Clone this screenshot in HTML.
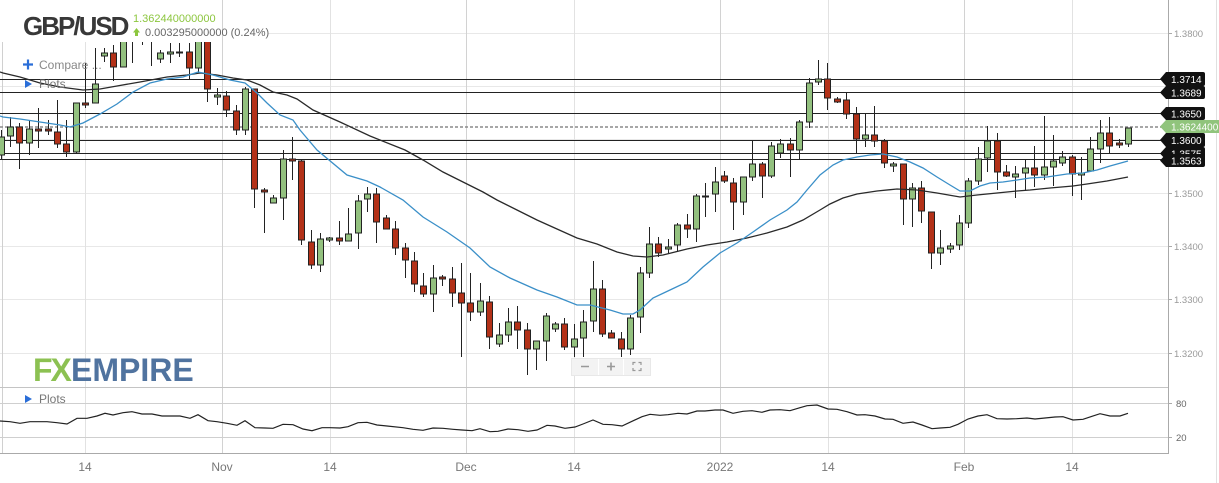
<!DOCTYPE html>
<html><head><meta charset="utf-8"><style>
html,body{margin:0;padding:0;background:#fff;}
svg{display:block;font-family:"Liberation Sans",Arial,sans-serif;}
</style></head><body>
<svg width="1219" height="483" viewBox="0 0 1219 483" xmlns="http://www.w3.org/2000/svg">
<defs><clipPath id="pc"><rect x="0" y="0" width="1168" height="387"/></clipPath></defs>
<rect width="1219" height="483" fill="#fff"/>
<g stroke="#e8e8e8" stroke-width="1">
<path d="M0 33.5H1168M0 86.5H1168M0 139.5H1168M0 193.5H1168M0 246.5H1168M0 299.5H1168M0 353.5H1168"/>
</g>
<g stroke="#e2e2e2" stroke-width="1">
<path d="M85.5 0V453M330.5 0V453M574.5 0V453M828.5 0V453M1072.5 0V453"/>
</g>
<g stroke="#d2d2d2" stroke-width="1">
<path d="M222.5 0V453M466.5 0V453M720.5 0V453M964.5 0V453"/>
</g>
<line x1="2.5" y1="0" x2="2.5" y2="453" stroke="#d0d0d0"/>
<line x1="1216.5" y1="0" x2="1216.5" y2="483" stroke="#e0e0e0"/>
<g stroke="#222" stroke-width="1">
<path d="M0 79.5H1162M0 92.5H1162M0 113.5H1162M0 140.5H1162M0 153.5H1162M0 159.5H1162"/>
</g>
<line x1="0" y1="127" x2="1162" y2="127" stroke="#8a8a8a" stroke-width="1.6" stroke-dasharray="3,2"/>
<g clip-path="url(#pc)">
<path fill="none" stroke="#222" stroke-width="1" d="M1.5 130V160M10.5 117V147M19.5 123V169M29.5 120V155M38.5 108V148M48.5 120V135M57.5 100V148M66.5 120V157M76.5 103V153M85.5 63V108M95.5 48V103M104.5 48V62M113.5 45V81M123.5 30V67M132.5 30V63M142.5 20V45M151.5 20V66M160.5 50V63M170.5 43V63M179.5 43V57M189.5 43V80M198.5 30V73M207.5 30V102M217.5 88V105M226.5 91V117M236.5 105V135M245.5 87V135M254.5 89V208M264.5 188V233M273.5 195V203M283.5 150V220M292.5 137V180M301.5 160V245M311.5 230V269M320.5 233V272M329.5 237V242M339.5 221V245M348.5 208V241M358.5 195V249M367.5 187V212M376.5 188V243M386.5 215V229M395.5 221V255M405.5 243V278M414.5 252V292M423.5 273V297M433.5 265V312M442.5 275V286M452.5 267V307M461.5 263V357M470.5 273V321M480.5 283V316M489.5 296V349M499.5 323V347M508.5 308V342M517.5 306V349M527.5 323V375M536.5 341V370M546.5 313V361M555.5 322V332M564.5 318V350M574.5 324V357M583.5 310V357M593.5 261V332M602.5 280V337M611.5 330V338M621.5 332V357M630.5 315V355M640.5 267V333M649.5 227V278M658.5 237V257M668.5 239V253M677.5 223V252M687.5 214V238M696.5 194V242M705.5 183V217M715.5 167V212M724.5 171V183M733.5 178V230M743.5 177V215M752.5 140V181M762.5 162V198M771.5 142V178M780.5 139V158M790.5 138V177M799.5 120V160M809.5 78V128M818.5 60V85M827.5 63V110M837.5 97V103M846.5 93V119M856.5 107V154M865.5 113V147M874.5 106V147M884.5 139V168M893.5 162V172M903.5 164V225M912.5 183V227M921.5 181V223M931.5 212V269M940.5 230V265M950.5 243V253M959.5 215V250M968.5 178V228M978.5 147V185M987.5 126V172M997.5 133V190M1006.5 165V177M1015.5 166V198M1025.5 159V190M1034.5 146V187M1044.5 116V180M1053.5 135V186M1062.5 151V166M1072.5 155V196M1081.5 157V200M1090.5 137V171M1100.5 120V163M1109.5 117V153M1119.5 139V148M1128.5 128V147"/>
<g fill="#93c17f" stroke="#222" stroke-width="1">
<rect x="-1.5" y="137" width="6" height="18"/><rect x="7.5" y="127" width="6" height="9"/><rect x="26.5" y="129" width="6" height="14"/><rect x="73.5" y="103" width="6" height="49"/><rect x="92.5" y="84" width="6" height="19"/><rect x="101.5" y="53" width="6" height="3"/><rect x="120.5" y="30" width="6" height="37"/><rect x="129.5" y="25" width="6" height="13"/><rect x="148.5" y="25" width="6" height="13"/><rect x="157.5" y="53" width="6" height="6"/><rect x="167.5" y="52" width="6" height="2"/><rect x="176.5" y="52" width="6" height="1"/><rect x="195.5" y="30" width="6" height="38"/><rect x="214.5" y="95" width="6" height="2"/><rect x="242.5" y="89" width="6" height="41"/><rect x="270.5" y="198" width="6" height="5"/><rect x="280.5" y="159" width="6" height="39"/><rect x="317.5" y="239" width="6" height="26"/><rect x="326.5" y="238" width="6" height="2"/><rect x="345.5" y="234" width="6" height="7"/><rect x="355.5" y="201" width="6" height="32"/><rect x="364.5" y="194" width="6" height="5"/><rect x="430.5" y="278" width="6" height="16"/><rect x="477.5" y="301" width="6" height="11"/><rect x="496.5" y="335" width="6" height="9"/><rect x="505.5" y="322" width="6" height="13"/><rect x="533.5" y="341" width="6" height="8"/><rect x="543.5" y="316" width="6" height="25"/><rect x="552.5" y="324" width="6" height="5"/><rect x="571.5" y="339" width="6" height="8"/><rect x="580.5" y="322" width="6" height="16"/><rect x="590.5" y="289" width="6" height="32"/><rect x="627.5" y="318" width="6" height="31"/><rect x="637.5" y="273" width="6" height="44"/><rect x="646.5" y="244" width="6" height="29"/><rect x="665.5" y="247" width="6" height="2"/><rect x="674.5" y="225" width="6" height="20"/><rect x="693.5" y="196" width="6" height="33"/><rect x="702.5" y="196" width="6" height="1"/><rect x="712.5" y="182" width="6" height="12"/><rect x="740.5" y="177" width="6" height="25"/><rect x="749.5" y="164" width="6" height="13"/><rect x="768.5" y="146" width="6" height="30"/><rect x="777.5" y="144" width="6" height="9"/><rect x="796.5" y="122" width="6" height="28"/><rect x="806.5" y="83" width="6" height="39"/><rect x="815.5" y="79" width="6" height="3"/><rect x="862.5" y="135" width="6" height="4"/><rect x="890.5" y="164" width="6" height="2"/><rect x="909.5" y="188" width="6" height="11"/><rect x="937.5" y="248" width="6" height="5"/><rect x="947.5" y="246" width="6" height="3"/><rect x="956.5" y="223" width="6" height="22"/><rect x="965.5" y="181" width="6" height="42"/><rect x="975.5" y="159" width="6" height="22"/><rect x="984.5" y="141" width="6" height="17"/><rect x="1012.5" y="174" width="6" height="3"/><rect x="1022.5" y="168" width="6" height="5"/><rect x="1041.5" y="167" width="6" height="8"/><rect x="1050.5" y="161" width="6" height="6"/><rect x="1059.5" y="157" width="6" height="6"/><rect x="1078.5" y="173" width="6" height="2"/><rect x="1087.5" y="149" width="6" height="22"/><rect x="1097.5" y="133" width="6" height="16"/><rect x="1125.5" y="128" width="6" height="16"/>
</g>
<g fill="#b33118" stroke="#222" stroke-width="1">
<rect x="16.5" y="127" width="6" height="16"/><rect x="35.5" y="129" width="6" height="2"/><rect x="45.5" y="129" width="6" height="2"/><rect x="54.5" y="132" width="6" height="12"/><rect x="63.5" y="144" width="6" height="8"/><rect x="82.5" y="103" width="6" height="2"/><rect x="110.5" y="53" width="6" height="14"/><rect x="139.5" y="25" width="6" height="13"/><rect x="186.5" y="52" width="6" height="16"/><rect x="204.5" y="30" width="6" height="59"/><rect x="223.5" y="96" width="6" height="14"/><rect x="233.5" y="111" width="6" height="19"/><rect x="251.5" y="89" width="6" height="100"/><rect x="261.5" y="190" width="6" height="2"/><rect x="289.5" y="159" width="6" height="2"/><rect x="298.5" y="161" width="6" height="79"/><rect x="308.5" y="242" width="6" height="23"/><rect x="336.5" y="238" width="6" height="3"/><rect x="373.5" y="194" width="6" height="28"/><rect x="383.5" y="218" width="6" height="11"/><rect x="392.5" y="229" width="6" height="19"/><rect x="402.5" y="248" width="6" height="12"/><rect x="411.5" y="261" width="6" height="23"/><rect x="420.5" y="286" width="6" height="8"/><rect x="439.5" y="277" width="6" height="2"/><rect x="449.5" y="279" width="6" height="14"/><rect x="458.5" y="293" width="6" height="10"/><rect x="467.5" y="303" width="6" height="9"/><rect x="486.5" y="302" width="6" height="35"/><rect x="514.5" y="322" width="6" height="8"/><rect x="524.5" y="330" width="6" height="19"/><rect x="561.5" y="324" width="6" height="23"/><rect x="599.5" y="289" width="6" height="45"/><rect x="608.5" y="333" width="6" height="5"/><rect x="618.5" y="339" width="6" height="10"/><rect x="655.5" y="244" width="6" height="9"/><rect x="684.5" y="225" width="6" height="4"/><rect x="721.5" y="176" width="6" height="5"/><rect x="730.5" y="183" width="6" height="19"/><rect x="759.5" y="164" width="6" height="12"/><rect x="787.5" y="144" width="6" height="6"/><rect x="824.5" y="79" width="6" height="19"/><rect x="834.5" y="99" width="6" height="3"/><rect x="843.5" y="100" width="6" height="14"/><rect x="853.5" y="114" width="6" height="25"/><rect x="871.5" y="135" width="6" height="6"/><rect x="881.5" y="141" width="6" height="22"/><rect x="900.5" y="164" width="6" height="35"/><rect x="918.5" y="188" width="6" height="23"/><rect x="928.5" y="212" width="6" height="41"/><rect x="994.5" y="141" width="6" height="31"/><rect x="1003.5" y="172" width="6" height="4"/><rect x="1031.5" y="168" width="6" height="7"/><rect x="1069.5" y="157" width="6" height="17"/><rect x="1106.5" y="133" width="6" height="13"/><rect x="1116.5" y="143" width="6" height="2"/>
</g>
<polyline fill="none" stroke="#2a2a2a" stroke-width="1.3" points="0,72 3,73 20,77 40,83 60,87 83,90 100,89 117,86 140,82 167,77 187,75 200,73 217,75 233,78 247,80 260,85 273,92 287,95 297,99 313,110 340,122 370,136 405,150 423,160 443,172 463,182 483,192 497,200 517,210 537,220 557,229 577,238 597,244 617,252 633,256 647,257 663,255 687,249 707,245 727,242 747,238 767,233 787,227 803,220 820,210 830,204 843,198 857,194 877,191 897,189 917,190 937,193 960,197 977,195 997,193 1017,191 1030,190 1050,188 1073,186 1087,184 1107,181 1128,177"/>
<polyline fill="none" stroke="#3a8fc8" stroke-width="1.3" points="0,116 3,117 20,119 40,122 60,125 70,127 83,123 100,114 117,104 133,92 150,83 167,79 183,77 198,72 213,75 230,80 245,83 257,93 267,103 280,115 293,120 300,130 317,150 347,175 367,181 380,187 403,200 423,217 447,232 470,248 490,267 510,278 537,290 557,297 577,305 590,305 610,310 623,314 633,314 640,310 653,298 670,290 687,282 703,267 720,253 737,243 753,232 770,220 787,210 797,202 807,190 820,175 833,165 843,160 857,157 870,155 883,154 897,157 910,162 923,168 937,177 950,185 960,191 970,191 980,186 990,183 1003,182 1017,180 1030,178 1047,177 1067,174 1083,173 1097,170 1110,166 1128,161"/>
</g>
<rect x="0" y="0" width="268" height="42" fill="#fff"/>
<line x1="222.5" y1="0" x2="222.5" y2="42" stroke="#d2d2d2"/>
<text x="23" y="35" font-size="26" font-weight="bold" fill="#383838" letter-spacing="-2">GBP/USD</text>
<text x="133" y="22" font-size="11" fill="#8cc63e">1.362440000000</text>
<polygon points="133,32.5 136.5,28 140,32.5 138,32.5 138,36 135,36 135,32.5" fill="#8cc63e"/>
<text x="145" y="36" font-size="11" fill="#666">0.003295000000 (0.24%)</text>
<path d="M23 64.5H33M28 59.5V69.5" stroke="#2a6ed8" stroke-width="2.2"/>
<text x="39" y="69" font-size="12" fill="#888">Compare ...</text>
<polygon points="25,80 32,84 25,88" fill="#2a6ed8"/>
<text x="39" y="88" font-size="12" fill="#777">Plots</text>
<text x="33" y="381" font-size="32" font-weight="bold" fill="#8cc152" letter-spacing="-2">FX</text>
<text x="71" y="381" font-size="32" font-weight="bold" fill="#50739f">EMPIRE</text>
<rect x="571.5" y="358.5" width="79" height="17" fill="#f3f3f3" stroke="#e8e8e8"/>
<path d="M598.5 359V375M623.5 359V375" stroke="#fff" stroke-width="1"/>
<path d="M581 366.5H589M607 366.5H615M611 362.5V370.5" stroke="#999" stroke-width="1.6"/>
<path d="M633 365V362.5H635.5M638.5 362.5H641V365M641 368V370.5H638.5M635.5 370.5H633V368" fill="none" stroke="#999" stroke-width="1.2"/>
<line x1="0" y1="387.5" x2="1168" y2="387.5" stroke="#c4c4c4"/>
<path d="M0 403.5H1168M0 437.5H1168" stroke="#cfcfcf"/>
<line x1="0" y1="453.5" x2="1168" y2="453.5" stroke="#aaa"/>
<polygon points="25,395 32,399 25,403" fill="#2a6ed8"/>
<text x="39" y="403" font-size="12" fill="#777">Plots</text>
<polyline fill="none" stroke="#222" stroke-width="1.2" points="0,421 10,421.7 20,423.3 30,421.7 47,421.7 57,422.7 67,424 77,418.3 87,418.3 97,416 105,413.3 113,415 123,412.7 132,411.7 142,414 152,414 162,416 172,416 180,416 190,418.3 198,414.7 208,420.7 217,421.7 227,423.3 237,425.3 245,420.7 255,427.7 265,428 273,428.3 283,424.3 293,424.7 303,429 312,430.7 322,427.7 330,427.7 340,428 348,426.7 358,422.7 367,422.3 377,425 387,426 403,427.7 413,429.3 423,430.3 433,428 443,428.3 453,429.3 462,430 472,430.7 480,428.7 490,431.7 498,431.3 508,429 518,429.7 528,431.3 537,430 547,425.3 555,426 565,428.3 575,427 583,424 593,420 603,424.3 612,424.7 622,426 632,421.3 642,416.7 650,414.3 660,415.3 668,414.7 678,413.3 687,414 697,411 705,411 715,410 723,410 733,413.3 743,411.3 752,410.7 762,412.3 770,410 780,409.7 790,410.7 800,407.7 807,405.7 817,405 828,409 837,409.3 847,411.7 857,415 865,414.7 875,416 885,419 893,419.3 903,423.3 913,422 922,425 932,428.7 940,428 950,427.3 958,424.3 968,419 978,416 987,414.7 997,418.7 1007,419 1017,418.7 1027,418 1035,419 1045,418 1055,417 1063,416.7 1073,420 1083,419.3 1092,416.3 1100,413.7 1110,416 1120,416 1128,413.3"/>
<line x1="1168.5" y1="0" x2="1168.5" y2="454" stroke="#aaa"/>
<path d="M1168 33.5H1172M1168 193.5H1172M1168 246.5H1172M1168 299.5H1172M1168 353.5H1172M1168 403.5H1172M1168 437.5H1172" stroke="#aaa"/>
<g font-size="9.5" fill="#999">
<text x="1174" y="37">1.3800</text>
<text x="1174" y="197">1.3500</text>
<text x="1174" y="250">1.3400</text>
<text x="1174" y="303">1.3300</text>
<text x="1174" y="357">1.3200</text>
<text x="1176" y="407" fill="#666">80</text>
<text x="1176" y="441" fill="#666">20</text>
</g>
<g font-size="10" fill="#fff">
<path d="M1160 153.5L1166 147H1203Q1205 147 1205 149V158Q1205 160 1203 160H1166Z" fill="#111"/>
<text x="1171" y="157.5">1.3575</text>
<path d="M1160 79L1166 72H1203Q1205 72 1205 74V84Q1205 86 1203 86H1166Z" fill="#111"/>
<text x="1171" y="83">1.3714</text>
<path d="M1160 92.5L1166 86H1203Q1205 86 1205 88V97Q1205 99 1203 99H1166Z" fill="#111"/>
<text x="1171" y="96.5">1.3689</text>
<path d="M1160 113.5L1166 107H1203Q1205 107 1205 109V118Q1205 120 1203 120H1166Z" fill="#111"/>
<text x="1171" y="117.5">1.3650</text>
<path d="M1160 126.5L1166 120H1219V133H1166Z" fill="#90c47c"/>
<text x="1171" y="130.5">1.3624400</text>
<path d="M1160 140L1166 133H1203Q1205 133 1205 135V145Q1205 147 1203 147H1166Z" fill="#111"/>
<text x="1171" y="144">1.3600</text>
<path d="M1160 160.5L1166 154H1203Q1205 154 1205 156V165Q1205 167 1203 167H1166Z" fill="#111"/>
<text x="1171" y="164.5">1.3563</text>
</g>
<g font-size="12" fill="#777" text-anchor="middle">
<text x="85" y="471">14</text>
<text x="222" y="471">Nov</text>
<text x="330" y="471">14</text>
<text x="466" y="471">Dec</text>
<text x="574" y="471">14</text>
<text x="720" y="471">2022</text>
<text x="828" y="471">14</text>
<text x="964" y="471">Feb</text>
<text x="1072" y="471">14</text>
</g>
</svg>
</body></html>
